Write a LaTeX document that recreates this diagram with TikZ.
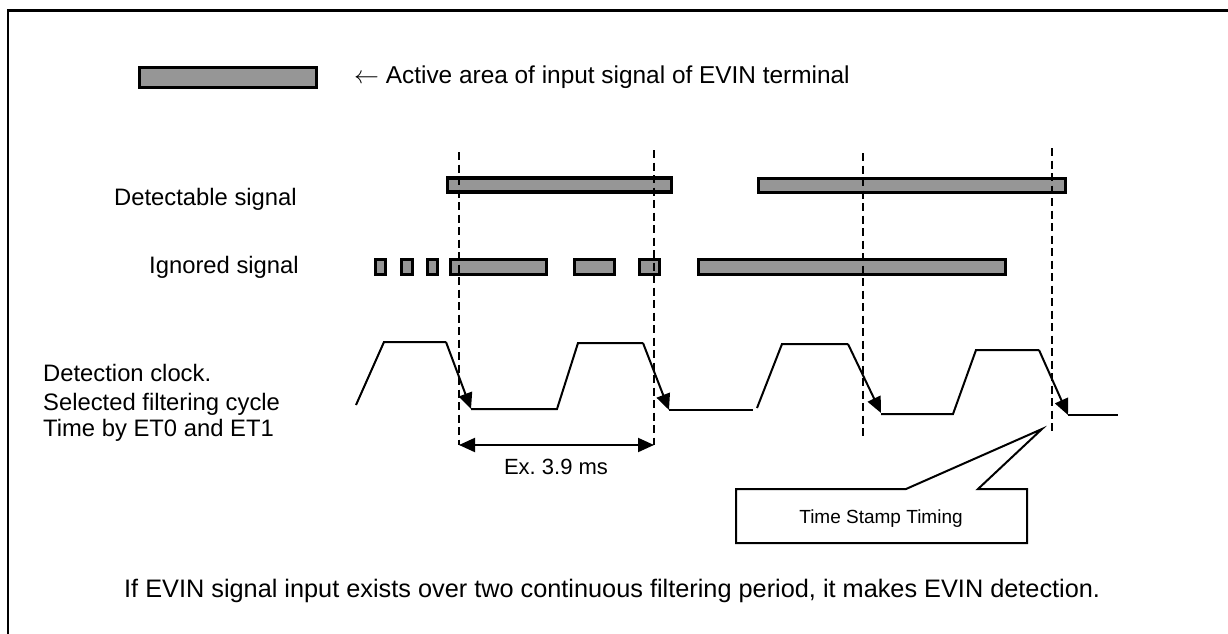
\documentclass[tikz,border=0pt]{standalone}
\usepackage{fontspec}
\setmainfont{Liberation Sans}
\usetikzlibrary{arrows.meta}
\definecolor{bargray}{HTML}{969696}
\tikzset{
  bar/.style={draw=black, fill=bargray, line width=3.2pt, rectangle, inner sep=0pt, minimum height=14pt},
  ibar/.style={bar, minimum height=15pt},
  lbl/.style={inner sep=0pt, anchor=base west, font=\fontsize{23.8}{28}\selectfont},
  vdash/.style={line width=2pt, dash pattern=on 8pt off 4.5pt},
  clk/.style={line width=2pt, line join=miter},
  tip/.style={-{Triangle[length=16pt,width=14pt]}},
}
\begin{document}
\frenchspacing
\begin{tikzpicture}[x=1pt,y=-1pt]
\useasboundingbox (0,0) rectangle (1228,634);
% frame (left and top edges)
\draw[line width=2.6pt] (8,634) -- (8,10.5) -- (1228,10.5);

% legend
\node[bar, minimum width=177pt, minimum height=20pt] (leg) at (228,77.5) {};
\node[lbl, font=\fontsize{24.4}{28}\selectfont] (legtxt) at (354,84) {$\leftarrow$ Active area of input signal of EVIN terminal};

% labels
\node[lbl] (ldet) at (114,205) {Detectable signal};
\node[lbl] (lign) at (149,273) {Ignored signal};
\node[lbl] (lclk1) at (43,381) {Detection clock.};
\node[lbl] (lclk2) at (43,410) {Selected filtering cycle};
\node[lbl] (lclk3) at (43,436) {Time by ET0 and ET1};

% detectable bars
\node[bar, minimum width=224pt] (det1) at (559.5,185) {};
\node[bar, minimum width=307pt] (det2) at (912,185.5) {};

% ignored bars
\node[ibar, minimum width=10pt] (ig1) at (380.5,267) {};
\node[ibar, minimum width=11pt] (ig2) at (407,267) {};
\node[ibar, minimum width=10pt] (ig3) at (432.5,267) {};
\node[ibar, minimum width=96pt] (ig4) at (498.5,267) {};
\node[ibar, minimum width=40pt] (ig5) at (594.5,267) {};
\node[ibar, minimum width=20pt] (ig6) at (649.5,267) {};
\node[ibar, minimum width=307pt] (ig7) at (852,267) {};

% dashed verticals
\coordinate (v1t) at (459,152); \coordinate (v1b) at (459,445);
\coordinate (v2t) at (654,150); \coordinate (v2b) at (654,445);
\coordinate (v3t) at (863,153); \coordinate (v3b) at (863,440);
\coordinate (v4t) at (1052,148); \coordinate (v4b) at (1052,435);
\draw[vdash] (v1t) -- (v1b);
\draw[vdash] (v2t) -- (v2b);
\draw[vdash] (v3t) -- (v3b);
\draw[vdash] (v4t) -- (v4b);

% detection clock
\draw[clk] (356,405) -- (384,342) -- (446,342);
\draw[clk,tip] (446,342) -- (471,409);
\draw[clk] (471,409) -- (557,409) -- (578,343) -- (643,343);
\draw[clk,tip] (643,343) -- (669,410);
\draw[clk] (669,410) -- (753,410);
\draw[clk] (757,408) -- (782,344) -- (848,344);
\draw[clk,tip] (848,344) -- (881,413);
\draw[clk] (881,414) -- (953,414) -- (976,350) -- (1039,350);
\draw[clk,tip] (1039,350) -- (1068,415);
\draw[clk] (1068,415) -- (1118,415);

% dimension
\draw[line width=2pt, {Triangle[length=16pt,width=14pt]}-{Triangle[length=16pt,width=14pt]}] (v1b) -- (v2b);
\node[inner sep=0pt, anchor=base, font=\fontsize{22}{26}\selectfont] (ex) at (556,474) {Ex. 3.9 ms};

% callout
\draw[line width=2pt, fill=white, line join=miter] (736,543) -- (736,489) -- (906,489) -- (1042,429) -- (978,489) -- (1027,489) -- (1027,543) -- cycle;
\node[inner sep=0pt, anchor=base, font=\fontsize{19}{23}\selectfont] (ts) at (881,523) {Time Stamp Timing};

% bottom note
\node[lbl, font=\fontsize{25.3}{30}\selectfont] (note) at (124,597) {If EVIN signal input exists over two continuous filtering period, it makes EVIN detection.};
\end{tikzpicture}
\end{document}
